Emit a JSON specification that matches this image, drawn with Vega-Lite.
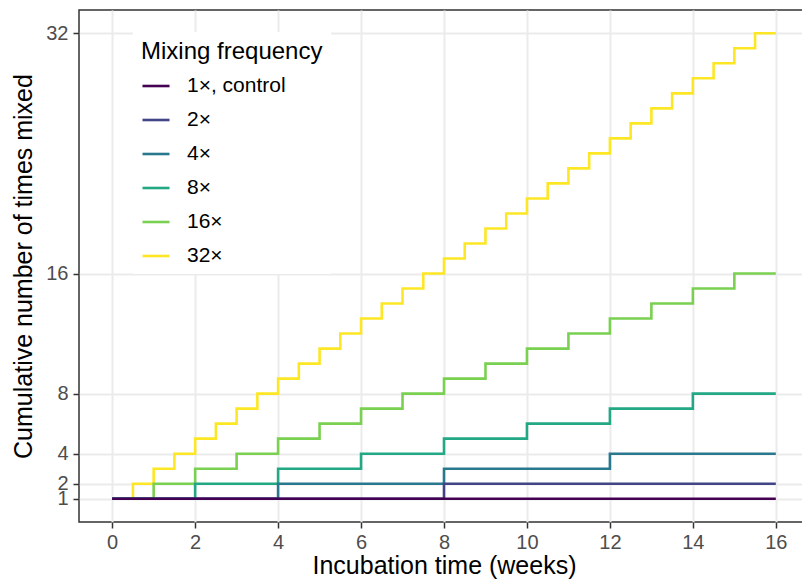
{
  "$schema": "https://vega.github.io/schema/vega-lite/v6.json",
  "width": 730,
  "height": 512,
  "autosize": {"type": "none"},
  "padding": {"left": 79, "top": 10, "right": 0, "bottom": 61},
  "background": "white",
  "config": {
    "font": "Liberation Sans",
    "view": {"stroke": "#333333", "strokeWidth": 1.5},
    "axis": {
      "domain": false,
      "grid": true,
      "gridColor": "#EBEBEB",
      "gridWidth": 2,
      "tickColor": "#333333",
      "tickSize": 6,
      "tickWidth": 1.5,
      "labelColor": "#4D4D4D",
      "labelFontSize": 20,
      "labelFont": "Liberation Sans",
      "titleFont": "Liberation Sans",
      "titleFontSize": 25,
      "titleFontWeight": "normal",
      "titleColor": "black",
      "labelOverlap": false,
      "labelFlush": false
    }
  },
  "data": {
    "values": [
      {"g": "32×", "t": 0, "n": 1}, {"g": "32×", "t": 0.5, "n": 2}, {"g": "32×", "t": 1, "n": 3}, {"g": "32×", "t": 1.5, "n": 4},
      {"g": "32×", "t": 2, "n": 5}, {"g": "32×", "t": 2.5, "n": 6}, {"g": "32×", "t": 3, "n": 7}, {"g": "32×", "t": 3.5, "n": 8},
      {"g": "32×", "t": 4, "n": 9}, {"g": "32×", "t": 4.5, "n": 10}, {"g": "32×", "t": 5, "n": 11}, {"g": "32×", "t": 5.5, "n": 12},
      {"g": "32×", "t": 6, "n": 13}, {"g": "32×", "t": 6.5, "n": 14}, {"g": "32×", "t": 7, "n": 15}, {"g": "32×", "t": 7.5, "n": 16},
      {"g": "32×", "t": 8, "n": 17}, {"g": "32×", "t": 8.5, "n": 18}, {"g": "32×", "t": 9, "n": 19}, {"g": "32×", "t": 9.5, "n": 20},
      {"g": "32×", "t": 10, "n": 21}, {"g": "32×", "t": 10.5, "n": 22}, {"g": "32×", "t": 11, "n": 23}, {"g": "32×", "t": 11.5, "n": 24},
      {"g": "32×", "t": 12, "n": 25}, {"g": "32×", "t": 12.5, "n": 26}, {"g": "32×", "t": 13, "n": 27}, {"g": "32×", "t": 13.5, "n": 28},
      {"g": "32×", "t": 14, "n": 29}, {"g": "32×", "t": 14.5, "n": 30}, {"g": "32×", "t": 15, "n": 31}, {"g": "32×", "t": 15.5, "n": 32},
      {"g": "32×", "t": 16, "n": 32},
      {"g": "16×", "t": 0, "n": 1}, {"g": "16×", "t": 1, "n": 2}, {"g": "16×", "t": 2, "n": 3}, {"g": "16×", "t": 3, "n": 4},
      {"g": "16×", "t": 4, "n": 5}, {"g": "16×", "t": 5, "n": 6}, {"g": "16×", "t": 6, "n": 7}, {"g": "16×", "t": 7, "n": 8},
      {"g": "16×", "t": 8, "n": 9}, {"g": "16×", "t": 9, "n": 10}, {"g": "16×", "t": 10, "n": 11}, {"g": "16×", "t": 11, "n": 12},
      {"g": "16×", "t": 12, "n": 13}, {"g": "16×", "t": 13, "n": 14}, {"g": "16×", "t": 14, "n": 15}, {"g": "16×", "t": 15, "n": 16},
      {"g": "16×", "t": 16, "n": 16},
      {"g": "8×", "t": 0, "n": 1}, {"g": "8×", "t": 2, "n": 2}, {"g": "8×", "t": 4, "n": 3}, {"g": "8×", "t": 6, "n": 4},
      {"g": "8×", "t": 8, "n": 5}, {"g": "8×", "t": 10, "n": 6}, {"g": "8×", "t": 12, "n": 7}, {"g": "8×", "t": 14, "n": 8},
      {"g": "8×", "t": 16, "n": 8},
      {"g": "4×", "t": 0, "n": 1}, {"g": "4×", "t": 4, "n": 2}, {"g": "4×", "t": 8, "n": 3}, {"g": "4×", "t": 12, "n": 4},
      {"g": "4×", "t": 16, "n": 4},
      {"g": "2×", "t": 0, "n": 1}, {"g": "2×", "t": 8, "n": 2}, {"g": "2×", "t": 16, "n": 2},
      {"g": "1×, control", "t": 0, "n": 1}, {"g": "1×, control", "t": 16, "n": 1}
    ]
  },
  "mark": {"type": "line", "interpolate": "step-after", "strokeWidth": 2.6, "clip": true},
  "encoding": {
    "x": {
      "field": "t", "type": "quantitative",
      "title": "Incubation time (weeks)",
      "scale": {"domain": [-0.8, 16.8], "nice": false, "zero": false},
      "axis": {"values": [0, 2, 4, 6, 8, 10, 12, 14, 16], "labelPadding": 4, "titlePadding": 1}
    },
    "y": {
      "field": "n", "type": "quantitative",
      "title": "Cumulative number of times mixed",
      "scale": {"domain": [-0.55, 33.55], "nice": false, "zero": false},
      "axis": {"values": [1, 2, 4, 8, 16, 32], "labelPadding": 5, "titlePadding": 9}
    },
    "color": {
      "field": "g", "type": "nominal",
      "title": "Mixing frequency",
      "scale": {
        "domain": ["1×, control", "2×", "4×", "8×", "16×", "32×"],
        "range": ["#440154", "#414487", "#2A788E", "#22A884", "#7AD151", "#FDE725"]
      },
      "legend": {
        "orient": "none",
        "legendX": 54,
        "legendY": 22,
        "fillColor": "white",
        "padding": 8,
        "symbolType": "stroke",
        "symbolStrokeWidth": 2.6,
        "symbolSize": 729,
        "labelFontSize": 21,
        "labelColor": "black",
        "labelFont": "Liberation Sans",
        "labelOffset": 16,
        "labelLimit": 400,
        "titleFontSize": 24,
        "titleFontWeight": "normal",
        "titleColor": "black",
        "titleFont": "Liberation Sans",
        "titleLimit": 400,
        "titlePadding": 7,
        "rowPadding": 9
      }
    }
  }
}
